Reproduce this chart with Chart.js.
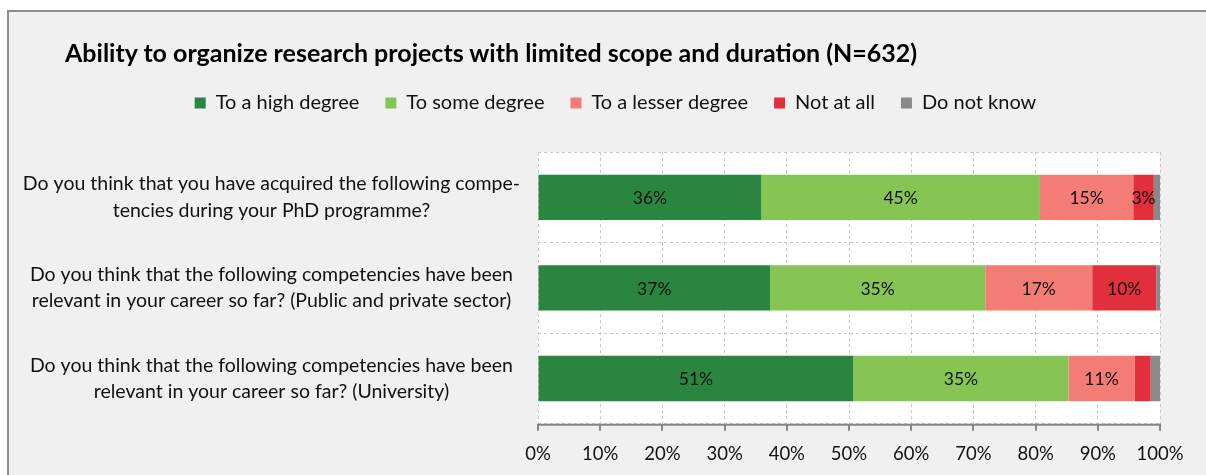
<!DOCTYPE html>
<html>
<head>
<meta charset="utf-8">
<script src="https://cdn.jsdelivr.net/npm/chart.js@4"></script>
<style>
  html, body { margin: 0; background: #fff; overflow: hidden; }
  #frame {
    position: fixed; left: 7px; top: 10px; right: -300px; bottom: -300px;
    border-left: 2px solid #8d8d8d; border-top: 2px solid #8d8d8d;
    background: #f0f0f0;
  }
  #title {
    position: absolute; left: 56px; top: 26px;
    font: bold 25px Lato, "Open Sans", sans-serif;
    color: #000; white-space: nowrap; line-height: 28px;
  }
  canvas { display: block; }
</style>
</head>
<body>
<div id="frame"><div id="title"></div><canvas id="chart" width="1200" height="470"></canvas></div>
<script>
const chartTitle = 'Ability to organize research projects with limited scope and duration (N=632)';

const categories = [
  ['Do you think that you have acquired the following compe-', 'tencies during your PhD programme?'],
  ['Do you think that the following competencies have been', 'relevant in your career so far? (Public and private sector)'],
  ['Do you think that the following competencies have been', 'relevant in your career so far? (University)']
];

const seriesNames = ['To a high degree', 'To some degree', 'To a lesser degree', 'Not at all', 'Do not know'];
const seriesColors = ['#2a8540', '#86c454', '#f37d74', '#e1303c', '#88898b'];

// percentages per question
const highDegree   = [35.9, 37.3, 50.7];
const someDegree   = [44.8, 34.6, 34.6];
const lesserDegree = [15.0, 17.2, 10.6];
const notAtAll     = [3.3, 10.3, 2.6];
const doNotKnow    = [1.0, 0.6, 1.5];

const tickValues = [0, 10, 20, 30, 40, 50, 60, 70, 80, 90, 100];

const FONT = 'Lato, "Open Sans", sans-serif';

document.getElementById('title').textContent = chartTitle;

// white plot background
const plotBg = {
  id: 'plotBg',
  beforeDraw: (chart) => {
    const { ctx, chartArea: { left, top, width, height } } = chart;
    ctx.save();
    ctx.fillStyle = '#ffffff';
    ctx.fillRect(left, top, width, height);
    ctx.restore();
  }
};

// extra gap below the legend, and push it a bit to the right
const legendTweak = {
  id: 'legendTweak',
  beforeInit: (chart) => {
    const fit = chart.legend.fit;
    chart.legend.fit = function () {
      fit.bind(chart.legend)();
      this.height += 29;
    };
  },
  afterLayout: (chart) => {
    chart.legend.left += 29;
    chart.legend.right += 29;
  }
};

// solid x axis line with tick marks hanging below it
const xAxisLine = {
  id: 'xAxisLine',
  afterDraw: (chart) => {
    const { ctx, chartArea: { left, right, bottom } } = chart;
    const xs = chart.scales.x;
    ctx.save();
    ctx.strokeStyle = '#858585';
    ctx.lineWidth = 2;
    ctx.beginPath();
    ctx.moveTo(left - 1, bottom + 1);
    ctx.lineTo(right + 1, bottom + 1);
    tickValues.forEach(v => {
      const px = Math.round(xs.getPixelForValue(v));
      ctx.moveTo(px, bottom);
      ctx.lineTo(px, bottom + 7);
    });
    ctx.stroke();
    ctx.restore();
  }
};

// percentage labels inside the bars
const barLabels = {
  id: 'barLabels',
  afterDatasetsDraw: (chart) => {
    const { ctx } = chart;
    ctx.save();
    ctx.font = '17.5px ' + FONT;
    ctx.fillStyle = '#111';
    ctx.textAlign = 'center';
    ctx.textBaseline = 'middle';
    chart.data.datasets.forEach((ds, di) => {
      const meta = chart.getDatasetMeta(di);
      meta.data.forEach((bar, i) => {
        const v = ds.data[i];
        if (v < 3) return;
        const cx = (bar.x + bar.base) / 2;
        ctx.fillText(Math.round(v) + '%', cx, bar.y + 1);
      });
    });
    ctx.restore();
  }
};

const allSeries = [highDegree, someDegree, lesserDegree, notAtAll, doNotKnow];

new Chart(document.getElementById('chart'), {
  type: 'bar',
  data: {
    labels: categories,
    datasets: allSeries.map((vals, i) => ({
      label: seriesNames[i],
      data: vals,
      backgroundColor: seriesColors[i],
      borderWidth: 0,
      categoryPercentage: 1,
      barPercentage: 0.5
    }))
  },
  plugins: [plotBg, legendTweak, xAxisLine, barLabels],
  options: {
    indexAxis: 'y',
    responsive: false,
    animation: false,
    layout: { padding: { left: 4, right: 49, top: 55, bottom: 4 } },
    plugins: {
      title: { display: false },
      legend: {
        position: 'top',
        labels: {
          color: '#111',
          font: { family: FONT, size: 20 },
          boxWidth: 11,
          boxHeight: 11,
          padding: 26
        }
      },
      tooltip: { enabled: false }
    },
    scales: {
      x: {
        stacked: true,
        min: 0,
        max: 100,
        afterBuildTicks: (axis) => { axis.ticks = tickValues.map(v => ({ value: v })); },
        ticks: {
          callback: (v) => v + '%',
          color: '#111',
          font: { family: FONT, size: 18.5 },
          padding: 13
        },
        grid: {
          color: '#c8c8c8',
          tickColor: 'rgba(0,0,0,0)',
          tickLength: 6,
          lineWidth: 1
        },
        border: { display: false, dash: [3, 3] }
      },
      y: {
        stacked: true,
        afterFit: (axis) => { axis.width = 525; },
        ticks: {
          color: '#111',
          font: { family: FONT, size: 19.5, lineHeight: 1.35 },
          crossAlign: 'center',
          padding: 18
        },
        grid: {
          offset: true,
          color: '#c8c8c8',
          drawTicks: false
        },
        border: { display: false, dash: [3, 3] }
      }
    }
  }
});
</script>
</body>
</html>
